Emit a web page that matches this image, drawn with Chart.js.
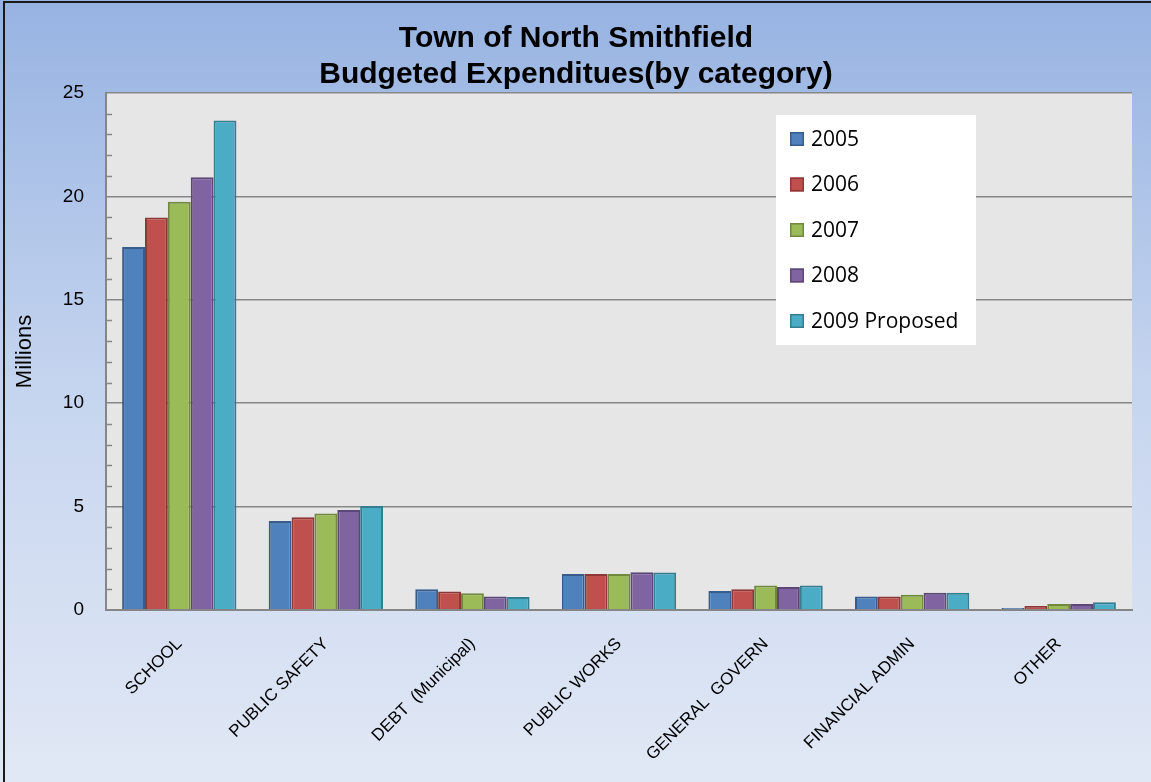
<!DOCTYPE html>
<html>
<head>
<meta charset="utf-8">
<script src="https://cdn.jsdelivr.net/npm/chart.js@4"></script>
<style>
  html, body { margin: 0; padding: 0; background: #fff; }
  #wrap { width: 1151px; height: 782px; }
</style>
</head>
<body>
<div id="wrap"><canvas id="myChart" width="1151" height="782"></canvas></div>
<script>
const categories = ['SCHOOL', 'PUBLIC SAFETY', 'DEBT  (Municipal)', 'PUBLIC WORKS', 'GENERAL  GOVERN', 'FINANCIAL ADMIN', 'OTHER'];
const years = ['2005', '2006', '2007', '2008', '2009 Proposed'];
const v2005 = [17.55, 4.30, 1.00, 1.74, 0.92, 0.65, 0.10];
const v2006 = [18.98, 4.48, 0.90, 1.74, 1.00, 0.65, 0.19];
const v2007 = [19.74, 4.67, 0.81, 1.74, 1.19, 0.74, 0.29];
const v2008 = [20.93, 4.84, 0.65, 1.82, 1.11, 0.84, 0.29];
const v2009 = [23.67, 5.03, 0.63, 1.81, 1.18, 0.84, 0.37];
const yMax = 25;
const yStep = 5;

const fills = ['#4F81BD', '#C0504D', '#9BBB59', '#8064A2', '#4BACC6'];
const edges = ['#385D8A', '#8C3836', '#71893F', '#5C4776', '#357D91'];
const series = [v2005, v2006, v2007, v2008, v2009];

const backdrop = {
	id: 'backdrop',
	beforeDraw(chart) {
		const c = chart.ctx, a = chart.chartArea;
		const g = c.createLinearGradient(0, 0, 0, chart.height);
		g.addColorStop(0, '#97B3E2');
		g.addColorStop(0.5, '#C6D5EF');
		g.addColorStop(1, '#E1E8F5');
		c.save();
		c.fillStyle = g;
		c.fillRect(0, 0, chart.width, chart.height);
		c.fillStyle = '#E6E6E6';
		c.fillRect(a.left, a.top, a.right - a.left, a.bottom - a.top);
		c.restore();
	},
	afterDraw(chart) {
		const c = chart.ctx, a = chart.chartArea;
		const y = chart.scales.y;
		c.save();
		// minor ticks inside the plot
		c.strokeStyle = '#868686';
		c.lineWidth = 1.5;
		for (let v = 1; v < yMax; v++) {
			if (v % yStep === 0) continue;
			const py = Math.round(y.getPixelForValue(v)) + 0.5;
			c.beginPath();
			c.moveTo(a.left, py);
			c.lineTo(a.left + 6, py);
			c.stroke();
		}
		// legend box inside the plot
		const bx = a.left + 670, by = a.top + 22;
		c.fillStyle = '#FFFFFF';
		c.fillRect(bx, by, 200, 230);
		c.font = '21px "Open Sans"';
		c.textBaseline = 'middle';
		chart.data.datasets.forEach((ds, i) => {
			const cy = by + 24 + i * 45.5;
			c.fillStyle = ds.backgroundColor;
			c.fillRect(bx + 14, cy - 7, 14, 14);
			c.strokeStyle = ds.borderColor;
			c.lineWidth = 1.5;
			c.strokeRect(bx + 14.75, cy - 6.25, 12.5, 12.5);
			c.fillStyle = '#000';
			c.fillText(ds.label, bx + 35, cy + 1);
		});
		// outer frame
		c.strokeStyle = '#1A1A1A';
		c.lineWidth = 2;
		c.beginPath();
		c.moveTo(4, chart.height);
		c.lineTo(4, 2);
		c.lineTo(chart.width, 2);
		c.stroke();
		c.restore();
	}
};

const ctx = document.getElementById('myChart');

const chart = new Chart(ctx, {
	type: 'bar',
	data: {
		labels: categories,
		datasets: years.map((yr, i) => ({
			label: yr,
			data: series[i],
			backgroundColor: fills[i],
			borderColor: edges[i],
			borderWidth: 2,
			categoryPercentage: 0.78,
			barPercentage: 1
		}))
	},
	options: {
		responsive: false,
		animation: false,
		layout: { padding: { left: 20, right: 19, top: 0, bottom: 0 } },
		plugins: {
			legend: { display: false },
			tooltip: { enabled: false },
			title: {
				display: true,
				text: ['Town of North Smithfield', 'Budgeted Expenditues(by category)'],
				color: '#000',
				font: { family: '"Liberation Sans", Arial', size: 30, weight: 'bold', lineHeight: 1.2166 },
				padding: { top: 20, bottom: 0 }
			}
		},
		scales: {
			x: {
				grid: { display: false, drawTicks: false },
				border: { display: true, color: '#868686', width: 2 },
				ticks: {
					color: '#000',
					font: { family: '"Liberation Sans", Arial', size: 17 },
					minRotation: 45,
					maxRotation: 45,
					padding: 24,
					autoSkip: false
				},
				afterFit(scale) { scale.height = 172; }
			},
			y: {
				min: 0,
				max: yMax,
				ticks: {
					stepSize: yStep,
					color: '#000',
					font: { family: '"Liberation Sans", Arial', size: 19 },
					padding: 22
				},
				grid: { color: '#878787', lineWidth: 1.5, drawTicks: false },
				border: { display: true, color: '#868686', width: 2 },
				title: {
					display: true,
					text: 'Millions',
					color: '#000',
					font: { family: '"Liberation Sans", Arial', size: 22, lineHeight: 1 },
					padding: { top: -6, bottom: 0 }
				},
				afterFit(scale) { scale.width = 86; }
			}
		}
	},
	plugins: [backdrop]
});
</script>
</body>
</html>
